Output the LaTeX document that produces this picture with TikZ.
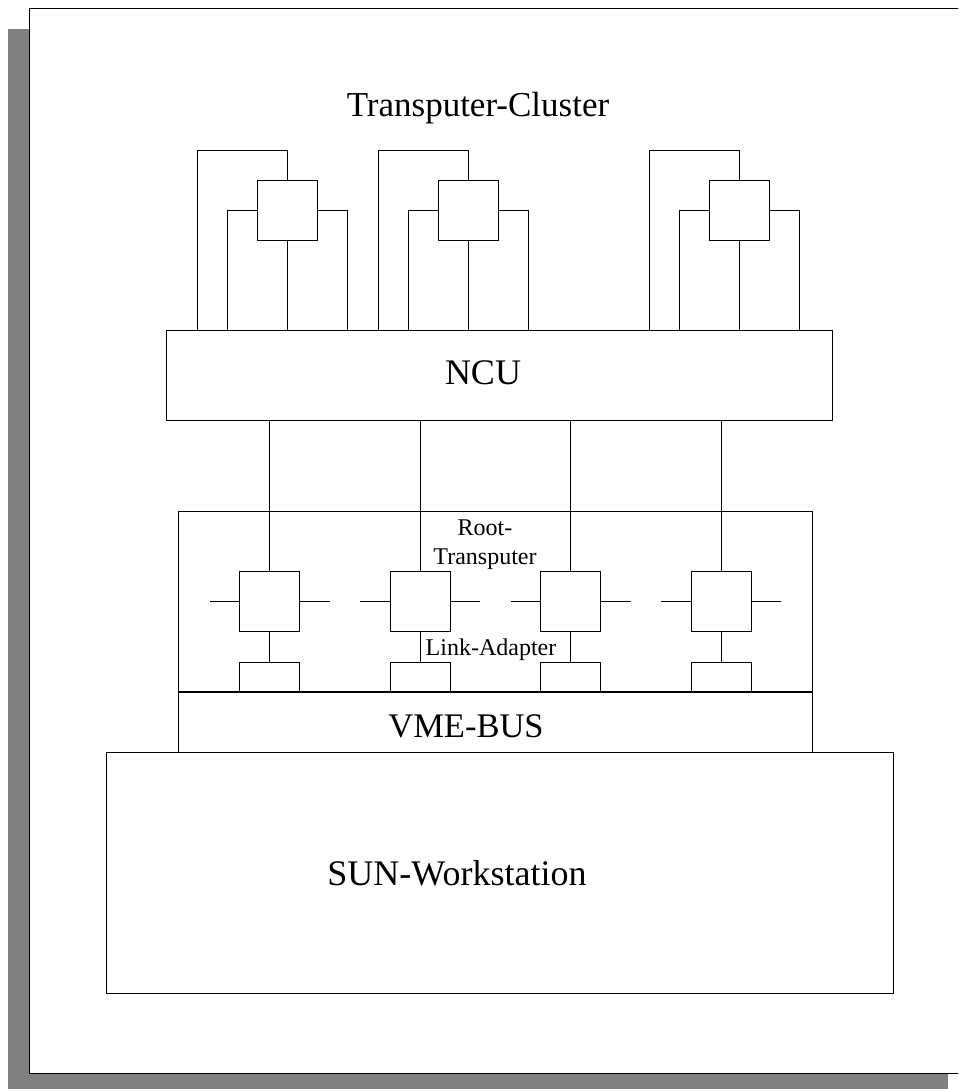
\documentclass[tikz,border=0pt]{standalone}
\usepackage{fontspec}
\setmainfont{Liberation Serif}
\usetikzlibrary{calc}
\definecolor{shadowgray}{gray}{0.5}
\begin{document}
\begin{tikzpicture}[x=1pt,y=-1pt,line width=0.9pt,
  tbox/.style={draw,fill=white,minimum width=60pt,minimum height=60pt,inner sep=0pt,outer sep=0pt},
  labox/.style={draw,minimum width=60pt,minimum height=30pt,inner sep=0pt,outer sep=0pt},
  bigbox/.style={draw,inner sep=0pt,outer sep=0pt},
  big/.style={anchor=base,inner sep=0pt,font=\fontsize{35}{42}\selectfont},
  small/.style={anchor=base,inner sep=0pt,font=\fontsize{24}{28.6}\selectfont}]
\useasboundingbox (0,0) rectangle (958,1089);
\clip (0,0) rectangle (958,1089);
% frame with shadow
\fill[shadowgray] (8,29) rectangle (948,1094);
\draw[fill=white] (29,8) rectangle (969,1073);

% title
\node[big] (title) at (478,117) {Transputer-Cluster};

% NCU
\node[bigbox,minimum width=666pt,minimum height=90pt] (ncu) at (499.5,375) {};
\node[big,font=\fontsize{36}{42}\selectfont] (ncutext) at (483,384.3) {NCU};

% cluster transputers
\node[tbox] (tp1) at (287,210) {};
\node[tbox] (tp2) at (468,210) {};
\node[tbox] (tp3) at (739,210) {};
\foreach \t in {tp1,tp2,tp3}{
  \draw (\t.north) -- ++(0,-30) -| ($(\t |- ncu.north)+(-90,0)$);
  \draw (\t.west) -| ($(\t |- ncu.north)+(-60,0)$);
  \draw (\t.east) -| ($(\t |- ncu.north)+(60,0)$);
  \draw (\t.south) -- (\t |- ncu.north);
}

% root container, VME bus, SUN
\node[bigbox,minimum width=634pt,minimum height=181pt] (root) at (495,601.5) {};
\node[bigbox,minimum width=634pt,minimum height=60pt] (vme) at (495,722) {};
\node[bigbox,minimum width=787pt,minimum height=241pt] (sun) at (499.5,872.5) {};

% root transputers and link adapters
\foreach \i/\x in {1/269.5,2/420,3/570.5,4/721}{
  \node[tbox] (rt\i) at (\x,601) {};
  \node[labox] (la\i) at (\x,677) {};
  \draw (ncu.south -| rt\i) -- (rt\i.north);
  \draw (rt\i.west) -- ++(-30,0);
  \draw (rt\i.east) -- ++(30,0);
  \draw (rt\i.south) -- (la\i.north);
}
\draw[line width=1.3pt] (vme.north west) -- (vme.north east);

% labels
\node[small,align=center] (rootlbl) at (485,564.3) {Root-\\Transputer};
\node[small] (lalbl) at (491,655.3) {Link-Adapter};
\node[big,font=\fontsize{34.5}{42}\selectfont] (vmelbl) at (466,737) {VME-BUS};
\node[big,font=\fontsize{36}{42}\selectfont] (sunlbl) at (457,885) {SUN-Workstation};
\end{tikzpicture}
\end{document}
